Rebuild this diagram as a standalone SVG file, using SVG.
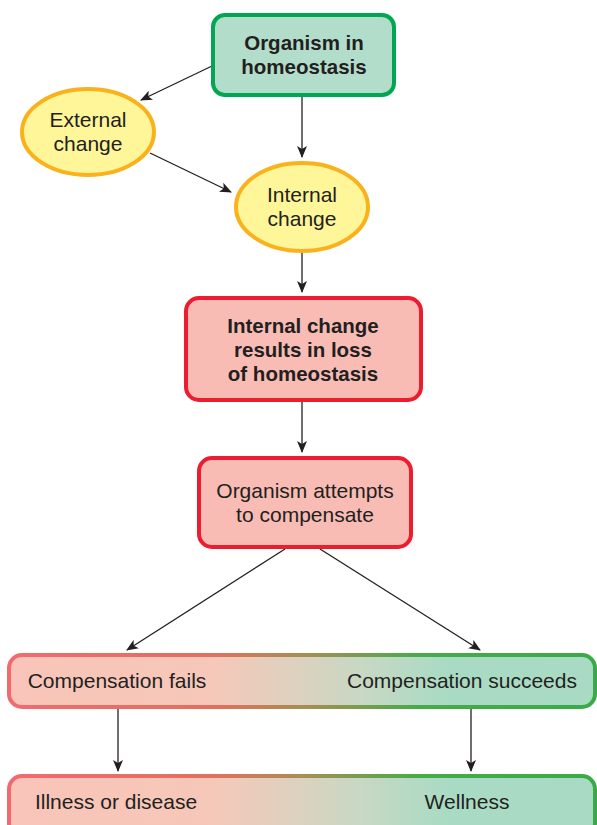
<svg xmlns="http://www.w3.org/2000/svg" width="597" height="825" viewBox="0 0 597 825">
<style>
text{font-family:"Liberation Sans",Arial,sans-serif;font-size:21px;fill:#231f20;text-anchor:middle}
.b{font-weight:bold;font-size:20.5px}
.ell{fill:#fff599;stroke:#f9b21b;stroke-width:4}
.red{fill:#f8bcb5;stroke:#ed1c2e;stroke-width:4}
.conn line{stroke:#231f20;stroke-width:1.3;marker-end:url(#ah)}
</style>
<defs>
<marker id="ah" viewBox="0 0 12 10" refX="11" refY="5" markerWidth="12" markerHeight="10" markerUnits="userSpaceOnUse" orient="auto">
<path d="M0,0 L12,5 L0,10 L3,5 Z" fill="#231f20"/>
</marker>
<linearGradient id="gf" x1="0" x2="1" y1="0" y2="0">
<stop offset="0" stop-color="#f9c4b9"/>
<stop offset="0.35" stop-color="#f6c8b9"/>
<stop offset="0.6" stop-color="#c8d8c3"/>
<stop offset="0.75" stop-color="#a9dbc4"/>
<stop offset="1" stop-color="#a9dbc4"/>
</linearGradient>
<linearGradient id="gs" x1="0" x2="1" y1="0" y2="0">
<stop offset="0" stop-color="#f26a70"/>
<stop offset="0.35" stop-color="#e2705e"/>
<stop offset="0.5" stop-color="#a88e52"/>
<stop offset="0.7" stop-color="#47ab4a"/>
<stop offset="1" stop-color="#3aaa48"/>
</linearGradient>
</defs>
<g class="conn">
<line x1="212" y1="66" x2="141" y2="100"/>
<line x1="302" y1="97" x2="302" y2="157"/>
<line x1="150" y1="153" x2="231" y2="192"/>
<line x1="302" y1="253" x2="302" y2="292"/>
<line x1="302" y1="402" x2="302" y2="452"/>
<line x1="285" y1="549" x2="127" y2="650"/>
<line x1="320" y1="549" x2="480" y2="650"/>
<line x1="118" y1="709" x2="118" y2="771"/>
<line x1="471" y1="709" x2="471" y2="771"/>
</g>
<g id="organism">
<rect x="213" y="15" width="181" height="80" rx="12" fill="#b2ddcb" stroke="#00a651" stroke-width="4"/>
<text class="b" x="304" y="50">Organism in</text>
<text class="b" x="304" y="74">homeostasis</text>
</g>
<g id="external">
<ellipse class="ell" cx="88" cy="132" rx="66" ry="43"/>
<text x="88" y="127">External</text>
<text x="88" y="151">change</text>
</g>
<g id="internal">
<ellipse class="ell" cx="302" cy="207" rx="66" ry="44"/>
<text x="302" y="202">Internal</text>
<text x="302" y="226">change</text>
</g>
<g id="loss">
<rect class="red" x="186" y="298" width="235" height="102" rx="13"/>
<text class="b" x="303" y="333">Internal change</text>
<text class="b" x="303" y="357">results in loss</text>
<text class="b" x="303" y="381">of homeostasis</text>
</g>
<g id="attempts">
<rect class="red" x="199" y="458" width="212" height="89" rx="13"/>
<text x="305" y="498">Organism attempts</text>
<text x="305" y="522">to compensate</text>
</g>
<g id="compensation">
<rect x="9" y="655" width="586" height="52" rx="13" fill="url(#gf)" stroke="url(#gs)" stroke-width="4"/>
<text x="117" y="688">Compensation fails</text>
<text x="462" y="688">Compensation succeeds</text>
</g>
<g id="outcome">
<rect x="9" y="776" width="586" height="60" rx="13" fill="url(#gf)" stroke="url(#gs)" stroke-width="4"/>
<text x="116" y="809">Illness or disease</text>
<text x="467" y="809">Wellness</text>
</g>
</svg>
